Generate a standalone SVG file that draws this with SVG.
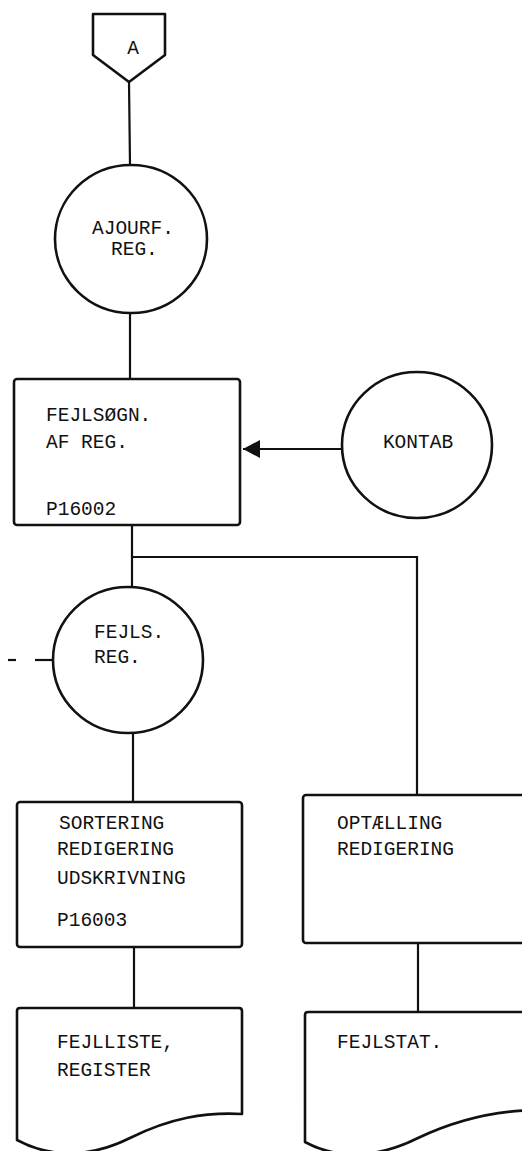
<svg xmlns="http://www.w3.org/2000/svg" width="522" height="1151" viewBox="0 0 522 1151">
<style>
.s{fill:none;stroke:#111;stroke-width:2.6;stroke-linejoin:round}
.c{fill:none;stroke:#111;stroke-width:2.2}
.t{font-family:"Liberation Mono","DejaVu Sans Mono",monospace;font-size:19.5px;fill:#111}
</style>
<defs>
<marker id="ah" markerWidth="18" markerHeight="18" refX="17" refY="9" orient="auto" markerUnits="userSpaceOnUse">
<path d="M0,0 L17,9 L0,18 Z" fill="#111"/>
</marker>
</defs>
<rect width="522" height="1151" fill="#fff"/>
<g id="connectors">
<line class="c" x1="129" y1="82" x2="130" y2="165"/>
<line class="c" x1="130" y1="313" x2="130" y2="379"/>
<line class="c" x1="342" y1="449" x2="243" y2="449" marker-end="url(#ah)"/>
<line class="c" x1="132" y1="525" x2="132" y2="587"/>
<polyline class="c" points="132,557 417,557 417,795"/>
<line class="c" x1="8" y1="660" x2="16" y2="660"/>
<line class="c" x1="35" y1="660" x2="52" y2="660"/>
<line class="c" x1="133" y1="733" x2="133" y2="802"/>
<line class="c" x1="134" y1="947" x2="134" y2="1008"/>
<line class="c" x1="418" y1="943" x2="418" y2="1012"/>
</g>
<g id="offpage-A">
<polygon class="s" points="93,14 165,14 165,55 129,82 93,55"/>
<text class="t" x="133" y="54" text-anchor="middle">A</text>
</g>
<g id="ajourf-reg">
<ellipse class="s" cx="131" cy="239" rx="76" ry="74"/>
<text class="t" x="92" y="234">AJOURF.</text>
<text class="t" x="111" y="255">REG.</text>
</g>
<g id="fejlsoegn">
<rect class="s" x="14" y="379" width="226" height="146" rx="3"/>
<text class="t" x="46" y="421">FEJLSØGN.</text>
<text class="t" x="46" y="448">AF REG.</text>
<text class="t" x="46" y="515">P16002</text>
</g>
<g id="kontab">
<ellipse class="s" cx="417" cy="445" rx="75" ry="73"/>
<text class="t" x="418" y="448" text-anchor="middle">KONTAB</text>
</g>
<g id="fejls-reg">
<ellipse class="s" cx="128" cy="660" rx="75" ry="73"/>
<text class="t" x="94" y="638">FEJLS.</text>
<text class="t" x="94" y="663">REG.</text>
</g>
<g id="sortering">
<rect class="s" x="17" y="802" width="225" height="145" rx="3"/>
<text class="t" x="59" y="829">SORTERING</text>
<text class="t" x="57" y="855">REDIGERING</text>
<text class="t" x="57" y="884">UDSKRIVNING</text>
<text class="t" x="57" y="926">P16003</text>
</g>
<g id="optaelling">
<rect class="s" x="303" y="795" width="230" height="148" rx="3"/>
<text class="t" x="337" y="829">OPTÆLLING</text>
<text class="t" x="337" y="855">REDIGERING</text>
</g>
<g id="fejlliste">
<path class="s" d="M17,1140 L17,1011 Q17,1008 20,1008 L239,1008 Q242,1008 242,1011 L242,1114 C205,1112 170,1118 130,1138 C90,1158 50,1158 17,1140 Z"/>
<text class="t" x="57" y="1048">FEJLLISTE,</text>
<text class="t" x="57" y="1076">REGISTER</text>
</g>
<g id="fejlstat">
<path class="s" d="M305,1142 L305,1015 Q305,1012 308,1012 L540,1012 L540,1110 C500,1110 460,1118 418,1138 C378,1158 338,1160 305,1142 Z"/>
<text class="t" x="337" y="1048">FEJLSTAT.</text>
</g>
</svg>
